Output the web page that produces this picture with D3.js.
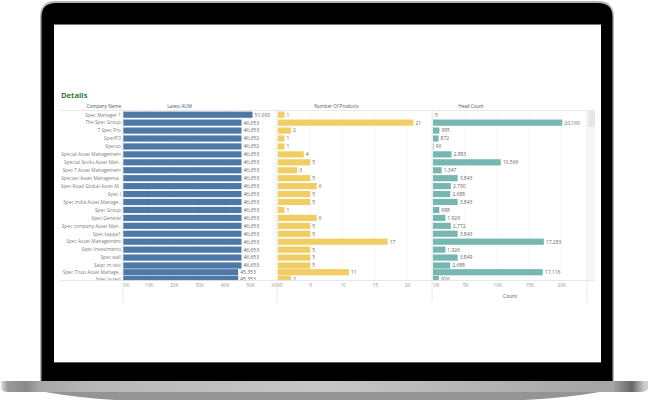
<!DOCTYPE html>
<html><head><meta charset="utf-8">
<script src="https://cdnjs.cloudflare.com/ajax/libs/d3/7.8.5/d3.min.js"></script>
<style>html,body{margin:0;padding:0;background:#fff}svg{display:block}text{font-family:"Open Sans",sans-serif}</style>
</head><body><svg id="c" width="649" height="401"></svg>
<script>
const companies=["Spec Manager 1","The Spec Group","T Spec Pro","SpecPO","Specso","Special Asset Management","Spectal Socks Asset Man..","Spec T Asset Management","Specsec Asset Managema..","Spec Road Global Asset M..","Spec I","Spec India Asset Manage..","Spec Group","Spec General","Spec company Asset Man..","Spec kappa1","Spec Asset Management","Spec Investments","Spec wall","Saipc m test","Spec Trust Asset Manage..","Spec la test"];
const aum=[51000,46653,46653,46652,46652,46653,46653,46653,46653,46653,46653,46653,46653,46653,46653,46653,46653,46653,46653,46653,45353,45353];
const products=[1,21,2,1,1,4,5,3,5,6,5,5,1,6,5,5,17,5,5,5,11,2];
const headCount=[5,20160,995,872,96,2883,10566,1347,3843,2790,2688,3843,988,1929,2772,3843,17283,1926,3849,2688,17116,926];
const aumTicks=[0,10000,20000,30000,40000,50000,60000];
const productTicks=[0,5,10,15,20];
const headTicks=[0,5000,10000,15000,20000];
const svg=d3.select("#c"),defs=svg.append("defs");
const fmt=d3.format(",");
// laptop
const g1=defs.append("linearGradient").attr("id","base");
[[0,"#e0e0e0"],[.01,"#9a9a9a"],[.04,"#8a8a8a"],[.06,"#a8a8a8"],[.15,"#b8b8b8"],[.5,"#c6c6c6"],[.85,"#ababab"],[.945,"#a6a6a6"],[.975,"#666"],[.995,"#cfcfcf"]].forEach(s=>g1.append("stop").attr("offset",s[0]).attr("stop-color",s[1]));
svg.append("path").attr("d","M45,392H600Q565,398 525,400H115Q80,398 45,392Z").attr("fill","#949494");
svg.append("path").attr("d","M1,381H648V388Q648,392 640,392H9Q1,392 1,388Z").attr("fill","url(#base)");
svg.append("path").attr("d","M40,381V17Q40,1 56,1H598Q614,1 614,17V381Z").attr("fill","#b5b5b5");
svg.append("path").attr("d","M41.5,381V17Q41.5,3 56,3H598Q612.5,3 612.5,17V381Z").attr("fill","#000");
svg.append("rect").attr("x",54).attr("y",24.5).attr("width",547).attr("height",337.5).attr("fill","#fff");
svg.append("rect").attr("x",54).attr("y",24).attr("width",547).attr("height",1).attr("fill","#777");
svg.append("rect").attr("x",54).attr("y",362).attr("width",547).attr("height",.7).attr("fill","#888");
// chart
const txt="#808080",plotTop=110.5,plotBottom=280.5;
svg.append("text").text("Details").attr("x",61).attr("y",97.5).attr("font-size",7.6).attr("font-weight",700).attr("fill","#2f7d32");
const y=d3.scaleLinear().domain([0,19,21]).range([114.7,265.5,279]);
svg.append("clipPath").attr("id","cl").append("rect").attr("x",54).attr("y",plotTop).attr("width",547).attr("height",plotBottom-plotTop);
const plot=svg.append("g");
const rows=svg.append("g").attr("clip-path","url(#cl)");
const panels=[
 {v:aum,s:d3.scaleLinear().domain([0,60000]).range([123,275.4]),c:"#4e79a7",t:aumTicks,f:d=>d/1000+"K",title:"Latest AUM",tx:179.5},
 {v:products,s:d3.scaleLinear().domain([0,20]).range([278,407]),c:"#f1ce63",t:productTicks,f:d=>d,title:"Number Of Products",tx:336.5},
 {v:headCount,s:d3.scaleLinear().domain([0,20000]).range([433,561.3]),c:"#76b7b2",t:headTicks,f:d=>d/1000+"K",title:"Head Count",tx:471}];
panels.forEach(p=>{
 plot.selectAll(null).data(p.t).join("line").attr("x1",p.s).attr("x2",p.s).attr("y1",plotTop).attr("y2",plotBottom).attr("stroke","#f3f3f3").attr("stroke-width",.7);
 svg.append("text").text(p.title).attr("x",p.tx).attr("y",108).attr("text-anchor","middle").attr("font-size",4.6).attr("fill","#555");
 rows.selectAll(null).data(p.v).join("rect").attr("x",p.s(0)).attr("y",(d,i)=>y(i)-3.1).attr("width",d=>p.s(d)-p.s(0)).attr("height",6.2).attr("fill",p.c);
 rows.selectAll(null).data(p.v).join("text").text(fmt).attr("x",d=>p.s(d)+2).attr("y",(d,i)=>y(i)+1.9).attr("font-size",5).attr("fill","#666");
 const a=d3.axisBottom(p.s).tickValues(p.t).tickFormat(p.f).tickSize(0).tickPadding(3);
 const ax=svg.append("g").attr("transform",`translate(0,${plotBottom})`).call(a);
 ax.select(".domain").remove();
 ax.selectAll("text").attr("font-size",4.9).attr("fill","#999").attr("font-family","'Open Sans',sans-serif");
 ax.selectAll(".tick").filter(d=>d===0).select("text").attr("dx",3);
});
rows.selectAll(null).data(companies).join("text").text(d=>d).attr("x",121).attr("y",(d,i)=>y(i)+1.8).attr("text-anchor","end").attr("font-size",4.8).attr("fill",txt);
svg.append("text").text("Company Name").attr("x",121).attr("y",108).attr("text-anchor","end").attr("font-size",4.6).attr("fill","#555");
svg.append("text").text("Count").attr("x",510).attr("y",297.5).attr("text-anchor","middle").attr("font-size",4.9).attr("fill","#555");
// structure
const rule=(a,b,c,d,col="#e2e2e2")=>svg.append("line").attr("x1",a).attr("y1",b).attr("x2",c).attr("y2",d).attr("stroke",col).attr("stroke-width",.8);
rule(60,110.5,595,110.5);rule(60,280.5,595,280.5);
[123,277,432,587].forEach(x=>rule(x,110.5,x,302));
svg.append("rect").attr("x",588).attr("y",111).attr("width",7).attr("height",169).attr("fill","#f6f6f6");
svg.append("rect").attr("x",588.5).attr("y",111).attr("width",6.5).attr("height",16).attr("fill","#e6e6e6");
</script></body></html>
